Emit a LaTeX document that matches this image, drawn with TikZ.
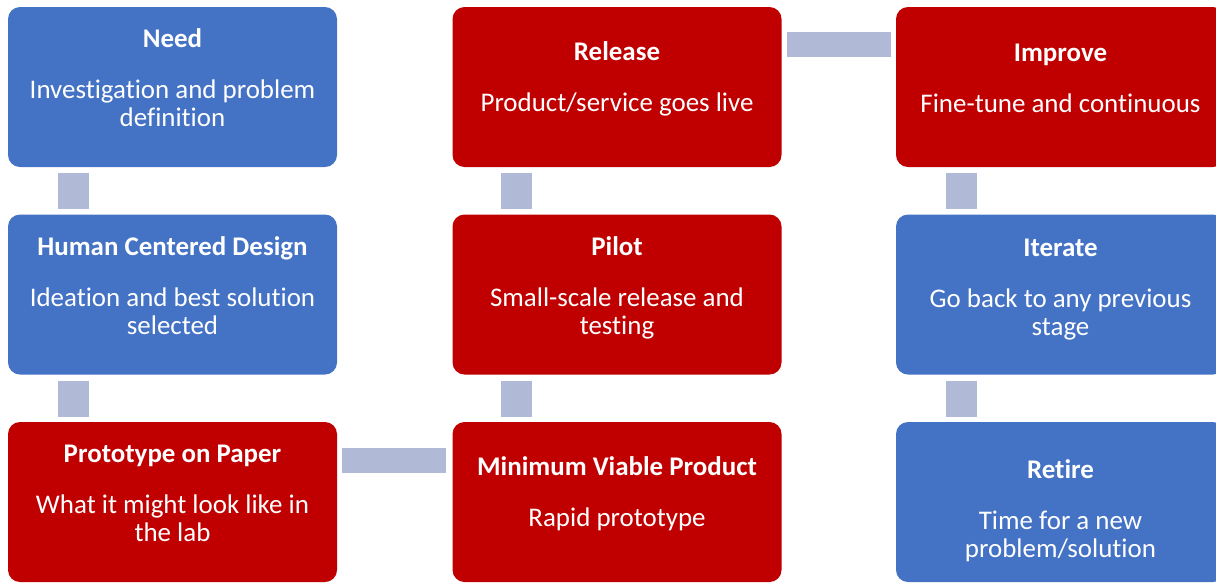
\documentclass[tikz,border=0pt]{standalone}
\usepackage{fontspec}
\setmainfont{Carlito}[RawFeature={-liga}]
\usetikzlibrary{calc}
\definecolor{stageblue}{RGB}{68,114,196}
\definecolor{stagered}{RGB}{192,0,0}
\definecolor{barblue}{RGB}{176,185,213}
\tikzset{
  stage/.style={rounded corners=9pt, minimum width=246.75pt, minimum height=120pt, inner sep=0pt},
  stagetext/.style={text=white, align=center, font=\fontsize{20.2}{21}\selectfont, inner sep=0pt},
  bar/.style={fill=barblue, draw=none}
}
\newcommand{\stagetitle}[1]{\textbf{#1}\\[17.25pt]}

\begin{document}
\begin{tikzpicture}[x=0.75pt, y=-0.75pt]
			%%%%% START %%%%%
			\clip (0,0) rectangle (1216,583);

			% boxes
			\node[stage, fill=stageblue] (need) at (172.5,87) {};
			\node[stage, fill=stageblue] (hcd) at (172.5,294.5) {};
			\node[stage, fill=stagered] (proto) at (172.5,502) {};
			\node[stage, fill=stagered] (release) at (617,87) {};
			\node[stage, fill=stagered] (pilot) at (617,294.5) {};
			\node[stage, fill=stagered] (mvp) at (617,502) {};
			\node[stage, fill=stagered] (improve) at (1060.5,87) {};
			\node[stage, fill=stageblue] (iterate) at (1060.5,294.5) {};
			\node[stage, fill=stageblue] (retire) at (1060.5,502) {};

			% texts
			\node[stagetext] (need-t) at ($(need)+(0,-9.5)$) {\stagetitle{Need}Investigation and problem\\definition};
			\node[stagetext] (hcd-t) at ($(hcd)+(0,-9)$) {\stagetitle{Human Centered Design}Ideation and best solution\\selected};
			\node[stagetext] (proto-t) at ($(proto)+(0,-8.5)$) {\stagetitle{Prototype on Paper}What it might look like in\\the lab};
			\node[stagetext] (release-t) at ($(release)+(0,-8.5)$) {\stagetitle{Release}Product/service goes live};
			\node[stagetext] (pilot-t) at ($(pilot)+(0,-7)$) {\stagetitle{Pilot}Small-scale release and\\testing};
			\node[stagetext] (mvp-t) at ($(mvp)+(0,-8.5)$) {\stagetitle{Minimum Viable Product}Rapid prototype};
			\node[stagetext] (improve-t) at ($(improve)+(0,-8.5)$) {\stagetitle{Improve}Fine-tune and continuous};
			\node[stagetext] (iterate-t) at ($(iterate)+(0,-4.5)$) {\stagetitle{Iterate}Go back to any previous\\stage};
			\node[stagetext] (retire-t) at ($(retire)+(0,9)$) {\stagetitle{Retire}Time for a new\\problem/solution};

			% bars
			\fill[bar] ($(need.south west)+(50,6)$) rectangle ($(hcd.north west)+(81,-5)$);
			\fill[bar] ($(hcd.south west)+(50,6)$) rectangle ($(proto.north west)+(81,-5)$);
			\fill[bar] ($(proto.north east)+(5,26)$) rectangle ($(mvp.north west)+(-6,51)$);
			\fill[bar] ($(mvp.north west)+(49,-5)$) rectangle ($(pilot.south west)+(80,6)$);
			\fill[bar] ($(pilot.north west)+(49,-5)$) rectangle ($(release.south west)+(80,6)$);
			\fill[bar] ($(release.north east)+(5,25)$) rectangle ($(improve.north west)+(-5,50)$);
			\fill[bar] ($(improve.south west)+(50,6)$) rectangle ($(iterate.north west)+(81,-5)$);
			\fill[bar] ($(iterate.south west)+(50,6)$) rectangle ($(retire.north west)+(81,-5)$);

			%%%%% END %%%%%
\end{tikzpicture}
\end{document}
